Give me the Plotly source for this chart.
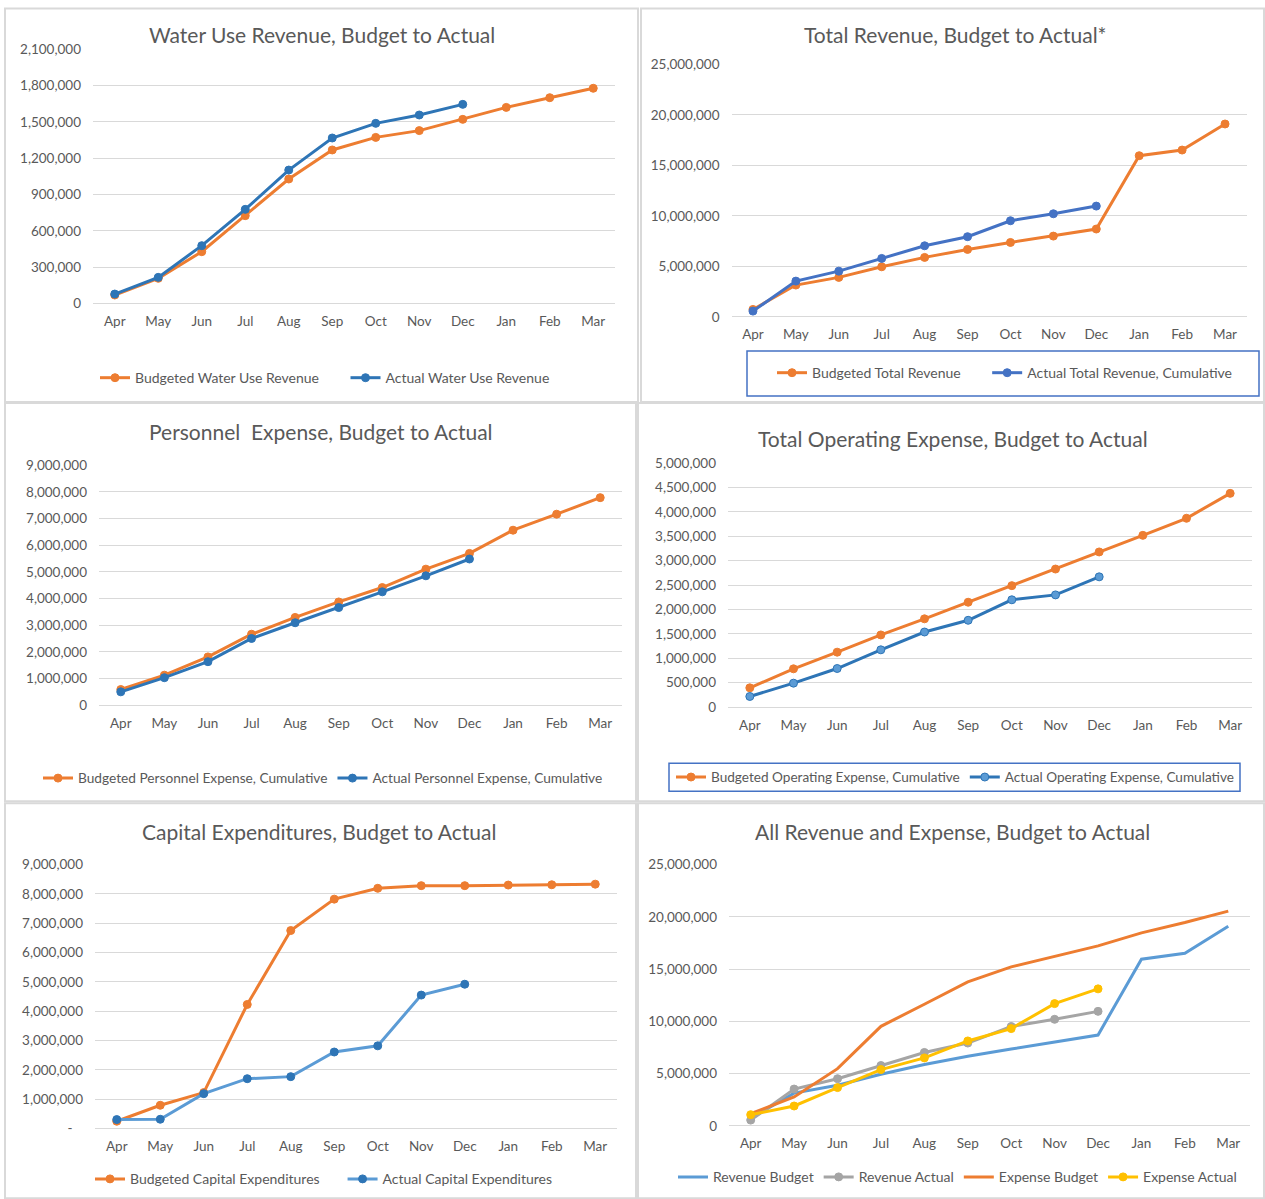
import plotly.graph_objects as go

months = ['Apr', 'May', 'Jun', 'Jul', 'Aug', 'Sep', 'Oct', 'Nov', 'Dec', 'Jan', 'Feb', 'Mar']
actual_months = months[:9]

# water use revenue
water_budget = [69000, 207000, 427000, 725000, 1028000, 1268000, 1372000, 1428000, 1521000, 1620000, 1700000, 1778000]
water_actual = [77000, 215000, 477000, 777000, 1102000, 1367000, 1488000, 1557000, 1645000]

# total revenue
rev_budget = [727000, 3140000, 3900000, 4950000, 5880000, 6670000, 7360000, 7990000, 8690000, 15950000, 16510000, 19090000]
rev_actual = [561000, 3530000, 4520000, 5780000, 7030000, 7930000, 9510000, 10200000, 10960000]

# personnel expense
pers_budget = [587000, 1125000, 1810000, 2660000, 3290000, 3870000, 4410000, 5100000, 5690000, 6560000, 7160000, 7780000]
pers_actual = [500000, 1030000, 1630000, 2500000, 3090000, 3660000, 4250000, 4850000, 5480000]

# operating expense
opex_budget = [396000, 786000, 1127000, 1480000, 1810000, 2150000, 2490000, 2830000, 3180000, 3520000, 3870000, 4380000]
opex_actual = [219000, 492000, 792000, 1175000, 1540000, 1780000, 2200000, 2300000, 2670000]

# capital expenditures
capex_budget = [250000, 795000, 1227000, 4230000, 6750000, 7820000, 8190000, 8280000, 8280000, 8300000, 8310000, 8330000]
capex_actual = [307000, 318000, 1190000, 1700000, 1770000, 2610000, 2820000, 4550000, 4920000]

# all revenue and expense
exp_budget = [1180000, 2770000, 5480000, 9530000, 11640000, 13780000, 15210000, 16230000, 17220000, 18460000, 19450000, 20540000]
exp_actual = [1080000, 1910000, 3670000, 5390000, 6510000, 8130000, 9310000, 11700000, 13110000]

# the page shows the figure 8px down and squeezed a little vertically
W, H = 1265, 1207
TOP = 8
SQ = 0.9865
ORANGE = '#ED7D31'
FONT = 'Lato, Open Sans, sans-serif'
TXT = '#595959'
PAD = '\u00a0' * 6


def px(x):
    return x / W


def py(y):
    return 1 - ((y - TOP) / SQ) / H


fig = go.Figure()


def add(i, x, y, name, color, mcolor=None, markers=True, mline=None):
    ax = '' if i == 1 else str(i)
    fig.add_trace(go.Scatter(
        x=x, y=y, name=name,
        mode='lines+markers' if markers else 'lines',
        line=dict(color=color, width=3),
        marker=dict(size=8, color=mcolor or color,
                    line=dict(color=mline or (mcolor or color), width=1)),
        xaxis='x' + ax, yaxis='y' + ax,
        legend='legend' + ax,
    ))


add(1, months, water_budget, 'Budgeted Water Use Revenue' + PAD, ORANGE)
add(1, actual_months, water_actual, 'Actual Water Use Revenue', '#2E75B6')
add(2, months, rev_budget, 'Budgeted Total Revenue' + PAD, ORANGE)
add(2, actual_months, rev_actual, 'Actual Total Revenue, Cumulative', '#4472C4')
add(3, months, pers_budget, 'Budgeted Personnel Expense, Cumulative', ORANGE)
add(3, actual_months, pers_actual, 'Actual Personnel Expense, Cumulative', '#2E75B6')
add(4, months, opex_budget, 'Budgeted Operating Expense, Cumulative', ORANGE)
add(4, actual_months, opex_actual, 'Actual Operating Expense, Cumulative', '#2E75B6',
    mcolor='#5B9BD5', mline='#2E75B6')
add(5, months, capex_budget, 'Budgeted Capital Expenditures' + '\u00a0' * 5, ORANGE)
add(5, actual_months, capex_actual, 'Actual Capital Expenditures', '#5B9BD5', mcolor='#2E75B6')
add(6, months, rev_budget, 'Revenue Budget', '#5B9BD5', markers=False)
add(6, actual_months, rev_actual, 'Revenue Actual', '#A5A5A5')
add(6, months, exp_budget, 'Expense Budget', ORANGE, markers=False)
add(6, actual_months, exp_actual, 'Expense Actual', '#FFC000')

# plot areas in pixels: x0, x1, y_top, y_bottom, ymax, dtick
areas = [
    (93, 615, 49.3, 303.3, 2100000, 300000),
    (731.5, 1246.5, 64.3, 316.7, 25000000, 5000000),
    (99, 622, 465, 705, 9000000, 1000000),
    (728, 1252, 463, 707, 5000000, 500000),
    (95, 617, 864.3, 1128.3, 9000000, 1000000),
    (729, 1250, 864.3, 1125.7, 25000000, 5000000),
]

layout = dict(
    width=W, height=H,
    margin=dict(l=0, r=0, t=0, b=0),
    paper_bgcolor='white', plot_bgcolor='white',
    font=dict(family=FONT, color=TXT, size=13),
)

for i, (x0, x1, yt, yb, ymax, dt) in enumerate(areas, start=1):
    ax = '' if i == 1 else str(i)
    layout['xaxis' + ax] = dict(
        domain=[px(x0), px(x1)], anchor='y' + ax,
        type='category', range=[-0.5, 11.5],
        categoryorder='array', categoryarray=months,
        showgrid=False, showline=False, zeroline=False,
        ticks='', ticklabelstandoff=8,
        tickfont=dict(size=13.5, color=TXT),
    )
    yax = dict(
        domain=[py(yb), py(yt)], anchor='x' + ax,
        range=[0, ymax], dtick=dt, tickformat=',',
        showgrid=True, gridcolor='#D9D9D9', gridwidth=1,
        zeroline=True, zerolinecolor='#D9D9D9', zerolinewidth=1,
        showline=False, ticks='', ticklabelstandoff=11,
        tickfont=dict(size=13.5, color=TXT),
    )
    if i == 5:
        vals = list(range(0, ymax + 1, dt))
        yax['tickmode'] = 'array'
        yax['tickvals'] = vals
        yax['ticktext'] = ['-   '] + [f'{v:,}' for v in vals[1:]]
    layout['yaxis' + ax] = yax

# legends: left x of first symbol, centre y, font size
legend_pos = [(100, 378, 14), (777, 373, 14), (43, 778, 13.7),
              (676, 777, 13.6), (95, 1179, 14), (678, 1177, 14)]
for i, (lx, ly, fs) in enumerate(legend_pos, start=1):
    key = 'legend' if i == 1 else 'legend' + str(i)
    layout[key] = dict(
        orientation='h', x=px(lx - 5), y=py(ly), xanchor='left', yanchor='middle',
        bgcolor='rgba(0,0,0,0)', font=dict(size=fs, color=TXT),
        itemwidth=30, tracegroupgap=0,
    )

titles = [
    ('Water Use Revenue, Budget to Actual', 322, 34),
    ('Total Revenue, Budget to Actual*', 955, 34),
    ('Personnel  Expense, Budget to Actual', 321, 431),
    ('Total Operating Expense, Budget to Actual', 953, 438),
    ('Capital Expenditures, Budget to Actual', 319, 831),
    ('All Revenue and Expense, Budget to Actual', 952, 831),
]
layout['annotations'] = [
    dict(text=t, x=px(x), y=py(y), xref='paper', yref='paper',
         xanchor='center', yanchor='middle', showarrow=False,
         font=dict(size=21, color=TXT, family=FONT))
    for t, x, y in titles
]

panels = [(5, 8.5, 638, 402), (641, 8.5, 1264, 402), (5, 403, 636, 801),
          (638, 403, 1264, 801), (5, 803, 636, 1198), (638, 803, 1264, 1198)]
shapes = [
    dict(type='rect', xref='paper', yref='paper',
         x0=px(a), x1=px(c), y0=py(d), y1=py(b),
         line=dict(color='#D9D9D9', width=2), layer='below')
    for a, b, c, d in panels
]
# legend boxes
for a, b, c, d in [(747, 351, 1259, 396), (669, 763, 1240, 791)]:
    shapes.append(dict(type='rect', xref='paper', yref='paper',
                       x0=px(a), x1=px(c), y0=py(d), y1=py(b),
                       line=dict(color='#4472C4', width=1.5)))
layout['shapes'] = shapes

fig.update_layout(**layout)

fig.write_html("out.html", config={'displayModeBar': False},
               post_script="document.body.style.margin='0';")
